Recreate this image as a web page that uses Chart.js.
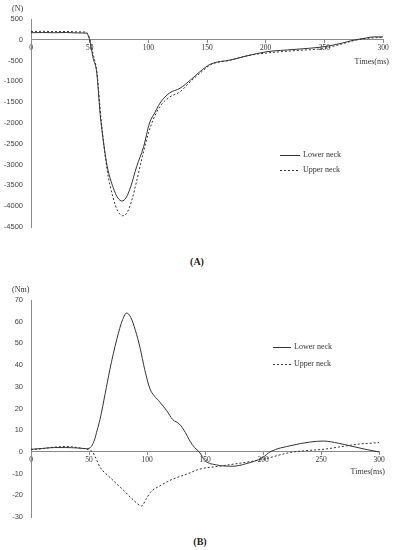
<!DOCTYPE html>
<html>
<head>
<meta charset="utf-8">
<script src="https://cdn.jsdelivr.net/npm/chart.js@4/dist/chart.umd.min.js"></script>
<style>
  html, body { margin: 0; padding: 0; background: #fff; }
  body { width: 396px; height: 550px; position: relative; overflow: hidden; }
  .wrap { position: absolute; left: 0; width: 396px; }
  .panel { position: absolute; font-family: "Liberation Serif", serif; font-weight: bold; font-size: 10px; color: #222; transform: translateX(-50%); }
</style>
</head>
<body>
<div class="wrap" style="top:0;height:250px;"><canvas id="chartA" width="396" height="250"></canvas></div>
<div class="wrap" style="top:280px;height:250px;"><canvas id="chartB" width="396" height="250"></canvas></div>
<div class="panel" style="left:197px;top:256px;">(A)</div>
<div class="panel" style="left:200px;top:536px;">(B)</div>
<script>
// ---------- Data ----------
const seriesLabels = ["Lower neck", "Upper neck"];

// (A) Force, N
const timesLowerA = [0,10,20,30,40,47,50,53,56,59,62,65,70,74,77.5,81,85,90,96,101,105,110,118,127,136,144,153,170,185,200,225,250,265,275,285,292,300];
const lowerNeckA  = [170,175,170,175,165,160,0,-450,-780,-1800,-2500,-3050,-3550,-3800,-3875,-3800,-3530,-3050,-2570,-2000,-1780,-1520,-1280,-1165,-965,-765,-585,-485,-380,-290,-230,-165,-80,-10,40,70,70];
const timesUpperA = [0,10,20,30,40,47,50,53,56,60,65,70,74,78,82,86,90,95,100,104,110,118,127,136,145,153,170,185,200,225,250,265,275,285,300];
const upperNeckA  = [200,205,195,200,190,185,20,-350,-750,-2000,-3150,-3800,-4120,-4230,-4150,-3850,-3400,-2800,-2250,-1930,-1600,-1380,-1250,-1000,-780,-600,-490,-380,-320,-260,-205,-100,-20,30,60];

// (B) Moment, Nm
const timesLowerB = [0,10,20,30,40,48,52,55,57,59.5,64,68,74,79,82.5,86,90,94,98,102.6,106,111,117,122,128,133,137,141,145,150,160,174,185,200,206,225,240,252,265,275,290,300];
const lowerNeckB  = [1.2,1.6,2,2,1.8,1.5,2.5,6,10,15,27,38,52,61,64,62,56,48,38,29,26,23,19,15,12.8,9,5,2,0,-4,-6,-6.6,-5.5,-2.5,0,3,4.5,5,4,2.8,1,0];
const timesUpperB = [0,10,20,30,40,48,53,56,59.5,68,79,88,95.4,99,103,111,122,134,145,165,200,223,235,252,265,281,300];
const upperNeckB  = [1,1.5,2.2,2.5,2,1.2,0,-3,-7,-11.7,-17.3,-22,-24.9,-22,-18.6,-15.7,-12.6,-10.3,-8,-6.4,-3.4,-0.3,0.5,1.2,2.2,3.5,4.3];

// Axis ticks
const xTickMin = 0, xTickMax = 300, xTickStep = 50;
const yTicksA = { min: -4500, max: 500, step: 500 };
const yTicksB = { min: -30, max: 70, step: 10 };
const unitA = "(N)", unitB = "(Nm)", xTitle = "Times(ms)";

// ---------- Helpers ----------
const pts = (xs, ys) => xs.map((x, i) => ({ x, y: ys[i] }));
const LINE = "#333";
const AXIS = "#8a8a8a";

const decor = {
  id: "decor",
  afterDraw(chart, args, opts) {
    const ctx = chart.ctx;
    const ca = chart.chartArea;
    const xs = chart.scales.x, ys = chart.scales.y;
    const axisY = ys.getPixelForValue(0);
    ctx.save();
    ctx.fillStyle = "#333";
    ctx.font = "8px 'Liberation Serif', serif";
    ctx.textAlign = "left"; ctx.textBaseline = "middle";
    ctx.fillText(opts.unit, opts.unitX, ca.top - opts.unitDy);
    ctx.textAlign = "right";
    ctx.fillText(opts.xTitle, xs.right + opts.titleDx, axisY + opts.titleDy);
    const lx = opts.legendX, ly = opts.legendY;
    chart.data.datasets.forEach((ds, i) => {
      const y = ly + i * opts.legendGap;
      ctx.beginPath();
      ctx.strokeStyle = ds.borderColor;
      ctx.lineWidth = 1;
      ctx.setLineDash(ds.borderDash || []);
      ctx.moveTo(lx, y + 0.5); ctx.lineTo(lx + opts.legendLine, y + 0.5);
      ctx.stroke();
      ctx.setLineDash([]);
      ctx.font = "8px 'Liberation Serif', serif";
      ctx.textAlign = "left";
      ctx.fillText(ds.label, lx + opts.legendLine + 3, y);
    });
    ctx.restore();
  }
};

function makeChart(id, dataLower, dataUpper, yT, pad, decorOpts) {
  return new Chart(document.getElementById(id), {
    type: "line",
    data: {
      datasets: [
        { label: seriesLabels[0], data: dataLower, borderColor: LINE, borderWidth: 1, pointRadius: 0, tension: 0.4, cubicInterpolationMode: "monotone", fill: false },
        { label: seriesLabels[1], data: dataUpper, borderColor: LINE, borderWidth: 1, borderDash: [2, 2], pointRadius: 0, tension: 0.4, cubicInterpolationMode: "monotone", fill: false }
      ]
    },
    options: {
      responsive: false,
      animation: false,
      layout: { padding: pad },
      plugins: { legend: { display: false }, tooltip: { enabled: false }, decor: decorOpts },
      scales: {
        x: {
          type: "linear",
          position: { y: 0 },
          min: xTickMin, max: xTickMax,
          grid: { display: true, drawOnChartArea: false, drawTicks: true, tickLength: 3, color: AXIS },
          border: { display: true, color: AXIS, width: 1 },
          ticks: { stepSize: xTickStep, color: "#333", padding: 1, maxRotation: 0,
                   callback: (v) => String(v),
                   font: { family: "'Liberation Serif', serif", size: 7.5 } }
        },
        y: {
          type: "linear",
          min: yT.min, max: yT.max,
          afterFit: (s) => { s.width = 31; },
          grid: { display: false, drawTicks: false },
          border: { display: true, color: AXIS, width: 1 },
          ticks: { stepSize: yT.step, color: "#444", padding: 8,
                   callback: (v) => String(v),
                   font: { family: "'Liberation Sans', sans-serif", size: 7.5 } }
        }
      }
    },
    plugins: [decor]
  });
}

makeChart("chartA", pts(timesLowerA, lowerNeckA), pts(timesUpperA, upperNeckA), yTicksA,
  { left: 0, right: 13, top: 19, bottom: 23 },
  { unit: unitA, unitX: 12, unitDy: 10, xTitle: xTitle, titleDx: 6, titleDy: 22,
    legendX: 280, legendY: 155, legendGap: 15, legendLine: 20 });

makeChart("chartB", pts(timesLowerB, lowerNeckB), pts(timesUpperB, upperNeckB), yTicksB,
  { left: 0, right: 17, top: 20, bottom: 13 },
  { unit: unitB, unitX: 12, unitDy: 10, xTitle: xTitle, titleDx: 6, titleDy: 20,
    legendX: 273, legendY: 67, legendGap: 17, legendLine: 18 });
</script>
</body>
</html>
